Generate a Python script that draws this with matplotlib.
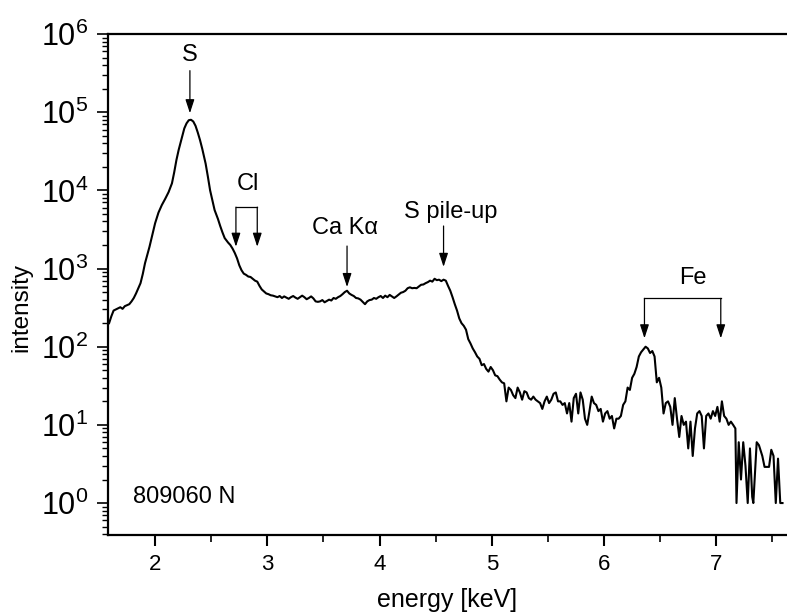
import numpy as np
import matplotlib
matplotlib.use("Agg")
import matplotlib.pyplot as plt
from matplotlib.ticker import FixedLocator, MultipleLocator, NullFormatter, LogFormatterSciNotation

plt.rcParams['font.family'] = ['Liberation Sans', 'DejaVu Sans']
plt.rcParams['mathtext.fontset'] = 'custom'
plt.rcParams['mathtext.rm'] = 'Liberation Sans'
plt.rcParams['mathtext.it'] = 'Liberation Sans:italic'
plt.rcParams['mathtext.default'] = 'regular'

# spectrum: energy [keV] and counts
energy = [1.59, 1.61, 1.63, 1.65, 1.67, 1.69, 1.71, 1.73, 1.75, 1.77, 1.79, 1.81, 1.83, 1.85, 1.87,
          1.89, 1.91, 1.93, 1.95, 1.97, 2.00, 2.03, 2.06, 2.09, 2.12, 2.15, 2.17, 2.19, 2.21, 2.24,
          2.26, 2.28, 2.30, 2.32, 2.34, 2.36, 2.38, 2.40, 2.42, 2.45, 2.47, 2.49, 2.51, 2.53, 2.56,
          2.58, 2.60, 2.62, 2.65, 2.67, 2.69, 2.71, 2.73, 2.75, 2.77, 2.79, 2.81, 2.83, 2.85, 2.87,
          2.89, 2.91, 2.93, 2.95, 2.97, 2.99, 3.01, 3.03, 3.05, 3.07, 3.09, 3.11, 3.13, 3.15, 3.17,
          3.19, 3.21, 3.23, 3.25, 3.27, 3.29, 3.31, 3.33, 3.35, 3.37, 3.39, 3.41, 3.43, 3.45, 3.47,
          3.49, 3.51, 3.53, 3.55, 3.57, 3.59, 3.61, 3.63, 3.65, 3.67, 3.69, 3.71, 3.73, 3.75, 3.77,
          3.79, 3.81, 3.83, 3.85, 3.87, 3.89, 3.91, 3.93, 3.95, 3.97, 3.99, 4.01, 4.03, 4.05, 4.07,
          4.09, 4.11, 4.13, 4.15, 4.17, 4.19, 4.21, 4.23, 4.25, 4.27, 4.29, 4.31, 4.33, 4.35, 4.37,
          4.39, 4.41, 4.43, 4.45, 4.47, 4.49, 4.51, 4.53, 4.55, 4.57, 4.59, 4.61, 4.63, 4.65, 4.67,
          4.69, 4.71, 4.73, 4.75, 4.77, 4.79, 4.81, 4.83, 4.85, 4.87, 4.89, 4.91, 4.93, 4.95, 4.97,
          4.99, 5.01, 5.03, 5.05, 5.07, 5.09, 5.11, 5.13, 5.15, 5.17, 5.19, 5.21, 5.23, 5.25, 5.27,
          5.29, 5.31, 5.33, 5.35, 5.37, 5.39, 5.41, 5.43, 5.45, 5.47, 5.49, 5.51, 5.53, 5.55, 5.57,
          5.59, 5.61, 5.63, 5.65, 5.67, 5.69, 5.71, 5.73, 5.75, 5.77, 5.79, 5.81, 5.83, 5.85, 5.87,
          5.89, 5.91, 5.93, 5.95, 5.97, 5.99, 6.01, 6.03, 6.05, 6.07, 6.09, 6.11, 6.13, 6.15, 6.17,
          6.19, 6.21, 6.23, 6.25, 6.27, 6.29, 6.31, 6.33, 6.35, 6.37, 6.39, 6.41, 6.43, 6.45, 6.47,
          6.49, 6.51, 6.53, 6.55, 6.57, 6.59, 6.61, 6.63, 6.65, 6.67, 6.69, 6.71, 6.73, 6.75, 6.77,
          6.79, 6.81, 6.83, 6.85, 6.87, 6.89, 6.91, 6.93, 6.95, 6.97, 6.99, 7.01, 7.03, 7.05, 7.07,
          7.09, 7.11, 7.13, 7.15, 7.17, 7.18, 7.20, 7.22, 7.24, 7.26, 7.28, 7.30, 7.32, 7.33, 7.36,
          7.38, 7.41, 7.43, 7.47, 7.49, 7.51, 7.53, 7.55, 7.57, 7.59]
intensity = [200, 245, 290, 300, 310, 320, 305, 330, 340, 350, 380, 420, 480, 560, 650,
             850, 1170, 1500, 1900, 2500, 3800, 5200, 6500, 7800, 9500, 12300, 17000, 24500, 33000, 48000,
             62000, 72000, 79000, 80000, 76000, 67000, 55000, 44000, 34000, 22000, 15000, 10000, 7500, 5600, 4300,
             3500, 2900, 2450, 2150, 2000, 1800, 1580, 1350, 1100, 950, 860, 830, 790, 780, 740,
             700, 680, 600, 540, 510, 480, 470, 455, 450, 440, 430, 445, 420, 440, 425,
             410, 430, 445, 425, 410, 430, 450, 430, 405, 420, 440, 415, 380, 375, 380,
             395, 370, 385, 400, 390, 420, 410, 430, 445, 470, 500, 520, 480, 460, 445,
             420, 415, 400, 375, 350, 380, 395, 400, 420, 410, 430, 445, 420, 450, 430,
             460, 440, 420, 440, 465, 490, 500, 520, 560, 575, 560, 565, 560, 590, 620,
             625, 650, 670, 700, 680, 740, 710, 720, 690, 720, 700, 600, 520, 430, 350,
             290, 230, 200, 185, 165, 125, 110, 95, 85, 75, 70, 58, 60, 52, 48,
             55, 50, 43, 42, 38, 35, 34, 20, 30, 28, 24, 22, 30, 26, 21,
             27, 26, 22, 21, 23, 21, 20, 19, 16, 20, 23, 19, 21, 25, 26,
             20, 20, 18, 19, 14, 19, 11, 22, 25, 14, 26, 21, 12, 10, 15,
             23, 19, 18, 15, 16, 11, 14, 15, 12, 13, 9, 12, 12, 13, 18,
             20, 30, 28, 40, 45, 55, 75, 85, 92, 100, 95, 83, 88, 75, 35,
             40, 30, 14, 19, 20, 17, 10, 22, 12, 7, 13, 10, 11, 5, 11,
             4, 9, 14, 15, 13, 5, 13, 14, 12, 15, 13, 17, 11, 20, 13,
             12, 10, 11, 10, 9, 1, 6, 2, 6, 3, 1, 5, 1.2, 1, 6,
             5.5, 4, 2.9, 2.9, 4.8, 4, 1, 3.7, 1, 1]

decades = [1e0, 1e1, 1e2, 1e3, 1e4, 1e5, 1e6]

fig = plt.figure(figsize=(7.87, 6.12), dpi=100)
ax = fig.add_axes([0.1372, 0.1258, 0.8628, 0.8186])

ax.plot(energy, intensity, color='black', lw=1.5)

ax.set_yscale('log')
ax.set_xlim(1.58, 7.63)
ax.set_ylim(0.39, 1e6)

ax.xaxis.set_major_locator(MultipleLocator(1))
ax.xaxis.set_minor_locator(MultipleLocator(0.5))
ax.yaxis.set_major_locator(FixedLocator(decades))
ax.yaxis.set_major_formatter(LogFormatterSciNotation())
minor = [d * k for d in [0.1] + decades[:-1] for k in range(2, 10)]
ax.yaxis.set_minor_locator(FixedLocator([m for m in minor if 0.39 <= m <= 1e6]))
ax.yaxis.set_minor_formatter(NullFormatter())

ax.tick_params(axis='y', which='major', direction='out', length=8, width=1.2, labelsize=22, pad=6)
ax.tick_params(axis='y', which='minor', direction='out', length=4.5, width=1.0)
ax.tick_params(axis='x', which='major', direction='out', length=8, width=1.5, labelsize=16, pad=6)
ax.tick_params(axis='x', which='minor', direction='out', length=5, width=1.2)

for s in ['left', 'bottom', 'top']:
    ax.spines[s].set_linewidth(1.6)
ax.spines['right'].set_visible(False)

ax.set_xlabel('energy [keV]', fontsize=18, labelpad=9)
ax.set_ylabel('intensity', fontsize=17.5)
ax.yaxis.set_label_coords(-0.112, 0.455)

arrow = dict(arrowstyle='-|>,head_length=0.55,head_width=0.18', color='black', lw=0.9,
             shrinkA=0, shrinkB=0, mutation_scale=15)

# S
ax.text(2.31, 5.4e5, 'S', fontsize=17, ha='center', va='center')
ax.annotate('', xy=(2.31, 9.7e4), xytext=(2.31, 3.4e5), arrowprops=arrow)

# Cl doublet
ax.text(2.83, 1.2e4, 'Cl', fontsize=17, ha='center', va='center')
ax.plot([2.72, 2.91], [6.1e3, 6.1e3], color='black', lw=0.9)
for xe in [2.72, 2.91]:
    ax.annotate('', xy=(xe, 1.9e3), xytext=(xe, 6.1e3), arrowprops=arrow)

# Ca K alpha
ax.text(3.69, 3.3e3, 'Ca K\u03b1', fontsize=17, ha='center', va='center')
ax.annotate('', xy=(3.71, 580), xytext=(3.71, 1.94e3), arrowprops=arrow)

# S pile-up
ax.text(4.63, 5.3e3, 'S pile-up', fontsize=17, ha='center', va='center')
ax.annotate('', xy=(4.57, 1.05e3), xytext=(4.57, 3.5e3), arrowprops=arrow)

# Fe doublet
ax.text(6.79, 755, 'Fe', fontsize=17, ha='center', va='center')
ax.plot([6.36, 7.04], [415, 415], color='black', lw=0.9)
for xe in [6.36, 7.04]:
    ax.annotate('', xy=(xe, 128), xytext=(xe, 415), arrowprops=arrow)

ax.text(0.037, 0.076, '809060 N', fontsize=17, ha='left', va='center', transform=ax.transAxes)

fig.savefig('out.png', dpi=100)
